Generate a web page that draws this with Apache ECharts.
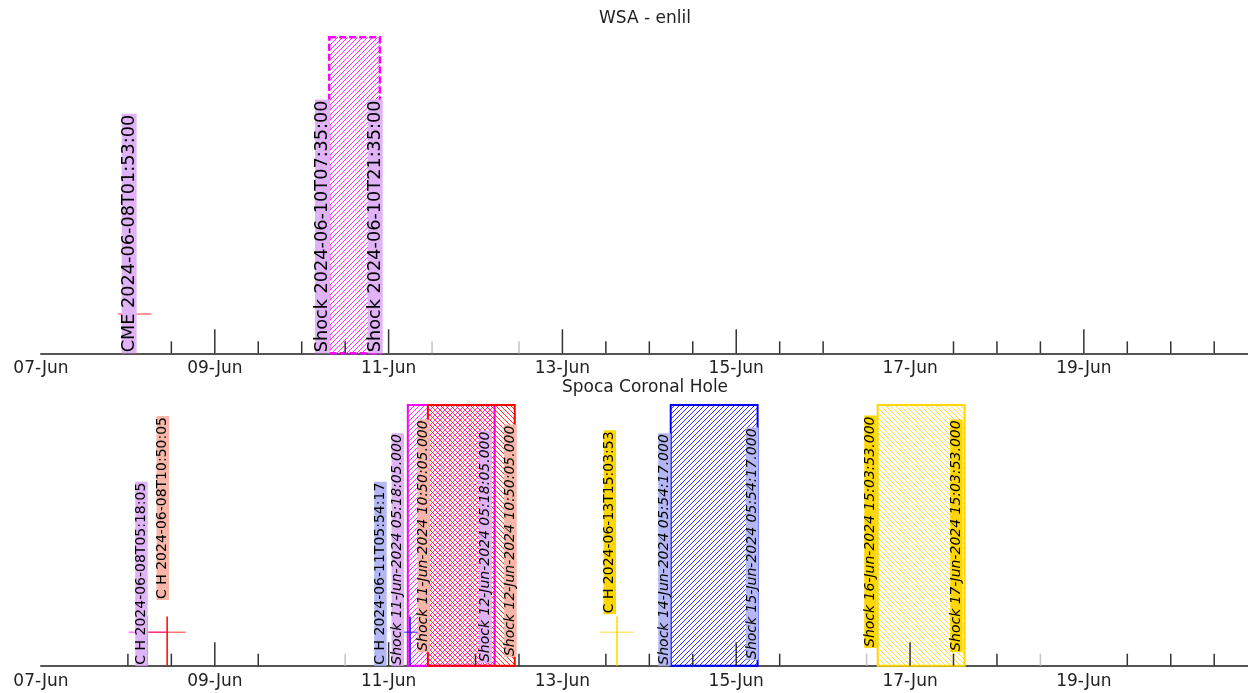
<!DOCTYPE html>
<html><head><meta charset="utf-8">
<script src="https://cdn.jsdelivr.net/npm/echarts@6/dist/echarts.min.js"></script>
<style>html,body{margin:0;padding:0;background:#fff}#c{width:1248px;height:693px}</style>
</head><body><div id="c"></div>
<script>
// ================= DATA =================
const axisStart = '2024-06-07T00:00:00';
const axisEnd = '2024-06-20T21:20:00';
const tickLabelDates = ['2024-06-07T00:00:00','2024-06-09T00:00:00','2024-06-11T00:00:00','2024-06-13T00:00:00','2024-06-15T00:00:00','2024-06-17T00:00:00','2024-06-19T00:00:00'];
const monthNames = ['Jan','Feb','Mar','Apr','May','Jun','Jul','Aug','Sep','Oct','Nov','Dec'];
const panelTitles = ['WSA - enlil', 'Spoca Coronal Hole'];

// --- Panel 1: WSA - enlil ---
const wsaLabelTexts = ['CME 2024-06-08T01:53:00', 'Shock 2024-06-10T07:35:00', 'Shock 2024-06-10T21:35:00'];
const wsaLabelTimes = ['2024-06-08T02:25:00', '2024-06-10T07:49:00', '2024-06-10T22:22:00'];
const wsaLabelBases = [0, 0, 0];
const wsaLabelGroups = ['violet', 'violet', 'violet'];
const wsaBoxStarts = ['2024-06-10T07:35:00'];
const wsaBoxEnds = ['2024-06-10T21:35:00'];
const wsaBoxGroups = ['violet'];
const wsaCrossTimes = ['2024-06-08T01:53:00'];
const wsaCrossLevels = [0.124];
const wsaCrossErrHours = [4.6];
const wsaCrossErrLevel = [0.05];
const wsaCrossGroups = ['red'];
const wsaMajorTicks = ['2024-06-09T00:00:00','2024-06-11T00:00:00','2024-06-13T00:00:00','2024-06-15T00:00:00','2024-06-19T00:00:00'];
const wsaMinorTicks = ['2024-06-08T12:00:00','2024-06-09T12:00:00','2024-06-10T00:00:00','2024-06-10T12:00:00','2024-06-13T12:00:00','2024-06-14T00:00:00','2024-06-14T12:00:00','2024-06-15T12:00:00','2024-06-16T00:00:00','2024-06-17T12:00:00','2024-06-18T00:00:00','2024-06-18T12:00:00','2024-06-19T12:00:00','2024-06-20T00:00:00','2024-06-20T12:00:00'];
const wsaGrayTicks = ['2024-06-11T12:00:00','2024-06-12T12:00:00'];

// --- Panel 2: Spoca Coronal Hole ---
const chLabelTexts = ['C H 2024-06-08T05:18:05', 'C H 2024-06-08T10:50:05', 'C H 2024-06-11T05:54:17',
  'Shock 11-Jun-2024 05:18:05.000', 'Shock 11-Jun-2024 10:50:05.000', 'Shock 12-Jun-2024 05:18:05.000', 'Shock 12-Jun-2024 10:50:05.000',
  'C H 2024-06-13T15:03:53', 'Shock 14-Jun-2024 05:54:17.000', 'Shock 15-Jun-2024 05:54:17.000',
  'Shock 16-Jun-2024 15:03:53.000', 'Shock 17-Jun-2024 15:03:53.000'];
const chLabelTimes = ['2024-06-08T05:28:00', '2024-06-08T11:21:00', '2024-06-10T23:28:00',
  '2024-06-11T04:15:00', '2024-06-11T11:26:00', '2024-06-12T04:28:00', '2024-06-12T11:22:00',
  '2024-06-13T14:48:00', '2024-06-14T05:54:00', '2024-06-15T06:06:00',
  '2024-06-16T14:48:00', '2024-06-17T14:33:00'];
const chLabelBases = [0, 0.252, 0, 0, 0.053, 0.01, 0.033, 0.197, 0, 0.022, 0.068, 0.053];
const chLabelGroups = ['violet', 'red', 'blue', 'violet', 'red', 'violet', 'red', 'gold', 'blue', 'blue', 'gold', 'gold'];
const chLabelKinds = ['ch', 'ch', 'ch', 'shock', 'shock', 'shock', 'shock', 'ch', 'shock', 'shock', 'shock', 'shock'];
const chBoxStarts = ['2024-06-11T05:18:05', '2024-06-11T10:50:05', '2024-06-14T05:54:17', '2024-06-16T15:03:53'];
const chBoxEnds = ['2024-06-12T05:18:05', '2024-06-12T10:50:05', '2024-06-15T05:54:17', '2024-06-17T15:03:53'];
const chBoxGroups = ['violet', 'red', 'blue', 'gold'];
const chCrossTimes = ['2024-06-08T05:18:05', '2024-06-08T10:50:05', '2024-06-11T05:54:17', '2024-06-13T15:03:53'];
const chCrossLevels = [0.128, 0.128, 0.128, 0.128];
const chCrossErrHours = [5.1, 5.1, 5.0, 4.6];
const chCrossErrLevel = [0.061, 0.061, 0.061, 0.061];
const chCrossGroups = ['violet', 'red', 'blue', 'gold'];
const chMajorTicks = ['2024-06-09T00:00:00','2024-06-11T00:00:00','2024-06-15T00:00:00','2024-06-17T00:00:00'];
const chMinorTicks = ['2024-06-08T00:00:00','2024-06-08T12:00:00','2024-06-09T12:00:00','2024-06-12T00:00:00','2024-06-12T12:00:00','2024-06-13T12:00:00','2024-06-14T00:00:00','2024-06-14T12:00:00','2024-06-15T12:00:00','2024-06-17T12:00:00','2024-06-18T00:00:00','2024-06-19T12:00:00','2024-06-20T00:00:00','2024-06-20T12:00:00'];
const chGrayTicks = ['2024-06-10T12:00:00','2024-06-16T12:00:00','2024-06-18T12:00:00'];

// ================= STYLE =================
const lineColors = { violet: '#ff00ff', red: '#ff0000', blue: '#0000ff', gold: '#ffd700' };
const labelBg = { violet: '#e0b2f6', red: '#f8b6a8', blue: '#b3b8f4', gold: '#ffd700' };
const hatchDir = { violet: '/', red: '\\', blue: '/', gold: '\\' };
const FONT = '"DejaVu Sans", "Liberation Sans", sans-serif';

const T = s => new Date(s).getTime();
const H = 3600 * 1000;

function makeHatch(color, dir, size, lw) {
  const c = document.createElement('canvas');
  c.width = size; c.height = size;
  const g = c.getContext('2d');
  g.strokeStyle = color; g.lineWidth = lw;
  g.beginPath();
  if (dir === '/') {
    g.moveTo(0, size); g.lineTo(size, 0);
    g.moveTo(-size / 2, size / 2); g.lineTo(size / 2, -size / 2);
    g.moveTo(size / 2, size * 1.5); g.lineTo(size * 1.5, size / 2);
  } else {
    g.moveTo(0, 0); g.lineTo(size, size);
    g.moveTo(-size / 2, size / 2); g.lineTo(size / 2, size * 1.5);
    g.moveTo(size / 2, -size / 2); g.lineTo(size * 1.5, size / 2);
  }
  g.stroke();
  return { image: c, repeat: 'repeat' };
}
const patterns = {};
Object.keys(lineColors).forEach(k => { patterns[k] = makeHatch(lineColors[k], hatchDir[k], 5, 0.8); });

function boxSeries(idx, starts, ends, groups, dashed) {
  return {
    type: 'custom', xAxisIndex: idx, yAxisIndex: idx, z: 2, clip: false, silent: true,
    data: starts.map((s, i) => [T(s), 0, T(ends[i]), 1]),
    renderItem: (params, api) => {
      const i = params.dataIndex, gk = groups[i];
      const p0 = api.coord([api.value(0), api.value(1)]);
      const p1 = api.coord([api.value(2), api.value(3)]);
      return {
        type: 'rect',
        shape: { x: p0[0], y: p1[1], width: p1[0] - p0[0], height: p0[1] - p1[1] },
        style: { fill: patterns[gk], stroke: lineColors[gk], lineWidth: dashed ? 2.5 : 2, lineDash: dashed ? [7, 3] : null }
      };
    }
  };
}

function crossSeries(idx, times, levels, errH, errL, groups) {
  return {
    type: 'custom', xAxisIndex: idx, yAxisIndex: idx, z: 3, clip: false, silent: true,
    data: times.map((t, i) => [T(t), levels[i]]),
    renderItem: (params, api) => {
      const i = params.dataIndex, col = lineColors[groups[i]];
      const t = api.value(0), lv = api.value(1);
      const b = api.coord([t, 0]), top = api.coord([t, lv + errL[i]]);
      const l = api.coord([t - errH[i] * H, lv]), r = api.coord([t + errH[i] * H, lv]);
      return {
        type: 'group', children: [
          { type: 'line', shape: { x1: l[0], y1: l[1], x2: r[0], y2: r[1] }, style: { stroke: col, lineWidth: 1.5, opacity: 0.55 } },
          { type: 'line', shape: { x1: b[0], y1: b[1], x2: top[0], y2: top[1] }, style: { stroke: col, lineWidth: 1.5 } }
        ]
      };
    }
  };
}

function tickSeries(idx, ticks, len, color) {
  return {
    type: 'custom', xAxisIndex: idx, yAxisIndex: idx, z: 4, clip: false, silent: true,
    data: ticks.map(t => [T(t), 0]),
    renderItem: (params, api) => {
      const p = api.coord([api.value(0), 0]);
      return { type: 'line', shape: { x1: p[0], y1: p[1], x2: p[0], y2: p[1] - len }, style: { stroke: color, lineWidth: 1.5 } };
    }
  };
}

function tickLabelSeries(idx) {
  return {
    type: 'custom', xAxisIndex: idx, yAxisIndex: idx, z: 4, clip: false, silent: true,
    data: tickLabelDates.map(t => [T(t), 0]),
    renderItem: (params, api) => {
      const v = api.value(0);
      const p = api.coord([v, 0]);
      const d = new Date(v);
      return {
        type: 'text', x: p[0], y: p[1] + 7,
        style: { text: String(d.getDate()).padStart(2, '0') + '-' + monthNames[d.getMonth()], fill: '#222', fontSize: 17, fontFamily: FONT, align: 'center', verticalAlign: 'top' }
      };
    }
  };
}

function labelSeries(idx, texts, times, bases, groups, kinds, fontSize, lineHeight) {
  return {
    type: 'custom', xAxisIndex: idx, yAxisIndex: idx, z: 5, clip: false, silent: true,
    data: times.map((t, i) => [T(t), bases[i]]),
    renderItem: (params, api) => {
      const i = params.dataIndex;
      const p = api.coord([api.value(0), api.value(1)]);
      return {
        type: 'text', x: p[0], y: p[1], rotation: Math.PI / 2,
        style: {
          text: texts[i], fill: '#000', fontSize: fontSize, fontFamily: FONT,
          fontStyle: (kinds && kinds[i] === 'shock') ? 'italic' : 'normal',
          align: 'left', verticalAlign: 'bottom', lineHeight: lineHeight,
          backgroundColor: labelBg[groups[i]], padding: [0, 1, 0, 1]
        }
      };
    }
  };
}

function xAxisFor(idx) {
  return {
    type: 'value', gridIndex: idx, min: T(axisStart), max: T(axisEnd),
    axisLine: { show: true, lineStyle: { color: '#555', width: 2 } },
    axisTick: { show: false }, splitLine: { show: false }, minorTick: { show: false },
    axisLabel: { show: false }
  };
}

const chart = echarts.init(document.getElementById('c'), null, { renderer: 'canvas' });
chart.setOption({
  animation: false,
  backgroundColor: '#fff',
  title: [
    { text: panelTitles[0], left: 645, top: 10, textAlign: 'center', padding: 0, textStyle: { fontSize: 17, fontWeight: 'normal', fontFamily: FONT, color: '#222' } },
    { text: panelTitles[1], left: 645, top: 379, textAlign: 'center', padding: 0, textStyle: { fontSize: 17, fontWeight: 'normal', fontFamily: FONT, color: '#222' } }
  ],
  grid: [
    { left: 41, right: 0, top: 37.3, height: 316 },
    { left: 41, right: 0, top: 405, height: 260.7 }
  ],
  xAxis: [xAxisFor(0), xAxisFor(1)],
  yAxis: [
    { type: 'value', gridIndex: 0, min: 0, max: 1, show: false },
    { type: 'value', gridIndex: 1, min: 0, max: 1, show: false }
  ],
  series: [
    boxSeries(0, wsaBoxStarts, wsaBoxEnds, wsaBoxGroups, true),
    crossSeries(0, wsaCrossTimes, wsaCrossLevels, wsaCrossErrHours, wsaCrossErrLevel, wsaCrossGroups),
    tickSeries(0, wsaMajorTicks, 24, '#333'),
    tickSeries(0, wsaMinorTicks, 12, '#333'),
    tickSeries(0, wsaGrayTicks, 12, '#c4c4c4'),
    tickLabelSeries(0),
    labelSeries(0, wsaLabelTexts, wsaLabelTimes, wsaLabelBases, wsaLabelGroups, null, 17.7, 15),

    boxSeries(1, chBoxStarts, chBoxEnds, chBoxGroups, false),
    crossSeries(1, chCrossTimes, chCrossLevels, chCrossErrHours, chCrossErrLevel, chCrossGroups),
    tickSeries(1, chMajorTicks, 23.5, '#333'),
    tickSeries(1, chMinorTicks, 12, '#333'),
    tickSeries(1, chGrayTicks, 12, '#c4c4c4'),
    tickLabelSeries(1),
    labelSeries(1, chLabelTexts, chLabelTimes, chLabelBases, chLabelGroups, chLabelKinds, 14, 12.5)
  ]
});
</script>
</body></html>
